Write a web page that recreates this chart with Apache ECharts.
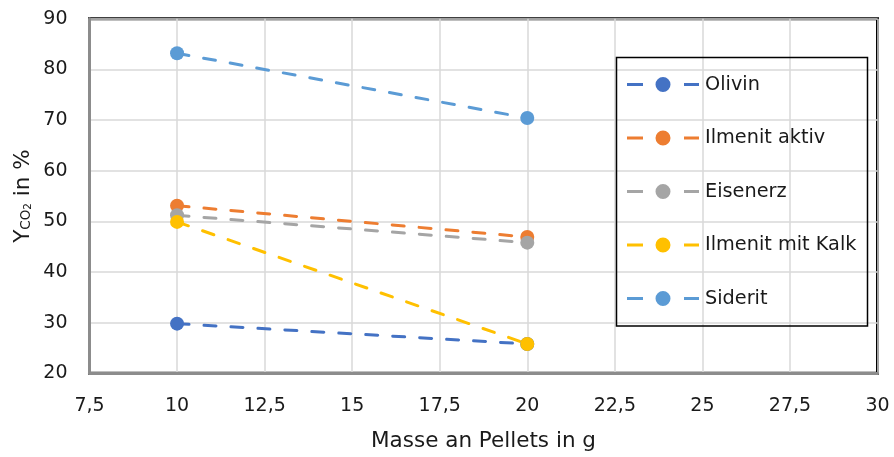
<!DOCTYPE html>
<html>
<head>
<meta charset="utf-8">
<script src="https://cdn.jsdelivr.net/npm/echarts@6/dist/echarts.min.js"></script>
<style>
html,body{margin:0;padding:0;background:#fff;}
#chart{width:894px;height:457px;}
</style>
</head>
<body>
<div id="chart"></div>
<script>
// Data
const xValues = [10, 20];
const seriesNames = ['Olivin', 'Ilmenit aktiv', 'Eisenerz', 'Ilmenit mit Kalk', 'Siderit'];
const olivin = [29.8, 25.8];
const ilmenitAktiv = [53.1, 46.9];
const eisenerz = [51.2, 45.8];
const ilmenitKalk = [49.9, 25.8];
const siderit = [83.2, 70.4];
const seriesColors = ['#4472C4', '#ED7D31', '#A5A5A5', '#FFC000', '#5B9BD5'];
const xTicks = { min: 7.5, max: 30, interval: 2.5 };
const yTicks = { min: 20, max: 90, interval: 10 };

const seriesValues = [olivin, ilmenitAktiv, eisenerz, ilmenitKalk, siderit];
const FONT = 'DejaVu Sans';
const legendIcon = 'path://M0,6L16,6L16,9L0,9Z M28.5,7.5A7.5,7.5,0,1,1,43.5,7.5A7.5,7.5,0,1,1,28.5,7.5Z M57,6L72,6L72,9L57,9Z';

const chart = echarts.init(document.getElementById('chart'), null, { renderer: 'canvas' });
chart.setOption({
  animation: false,
  backgroundColor: '#fff',
  grid: {
    left: 89.5, right: 16.5, top: 18.8, bottom: 83.7,
    containLabel: false,
    outerBoundsMode: 'none',
    show: true, borderColor: '#000', borderWidth: 3, backgroundColor: 'transparent'
  },
  xAxis: {
    type: 'value',
    min: xTicks.min, max: xTicks.max, interval: xTicks.interval,
    name: 'Masse an Pellets in g',
    nameLocation: 'middle',
    nameGap: 57,
    nameMoveOverlap: false,
    nameTextStyle: { fontFamily: FONT, fontSize: 21.5, color: '#1a1a1a', lineHeight: 22 },
    axisLine: { show: true, lineStyle: { color: '#8c8c8c', width: 3 } },
    axisTick: { show: false },
    splitLine: { show: true, lineStyle: { color: '#d9d9d9', width: 1.5 } },
    axisLabel: {
      fontFamily: FONT, fontSize: 19, color: '#1a1a1a', margin: 23,
      formatter: v => String(v).replace('.', ',')
    }
  },
  yAxis: {
    type: 'value',
    min: yTicks.min, max: yTicks.max, interval: yTicks.interval,
    name: '{a|Y}{b|CO}{c|2}{a| in %}',
    nameLocation: 'middle',
    nameGap: 56,
    nameRotate: 90,
    nameMoveOverlap: false,
    nameTextStyle: {
      color: '#1a1a1a',
      rich: {
        a: { fontFamily: FONT, fontSize: 21.5, lineHeight: 21, padding: [0, 0, 7, 0], verticalAlign: 'top', color: '#1a1a1a' },
        b: { fontFamily: FONT, fontSize: 13.5, lineHeight: 13, verticalAlign: 'bottom', color: '#1a1a1a' },
        c: { fontFamily: FONT, fontSize: 10.5, lineHeight: 10, verticalAlign: 'bottom', color: '#1a1a1a' }
      }
    },
    axisLine: { show: true, lineStyle: { color: '#8c8c8c', width: 3 } },
    axisTick: { show: false },
    splitLine: { show: true, lineStyle: { color: '#d9d9d9', width: 1.5 } },
    axisLabel: { fontFamily: FONT, fontSize: 19, color: '#1a1a1a', margin: 22 }
  },
  legend: {
    orient: 'vertical',
    left: 627, top: 75,
    padding: 0,
    itemWidth: 72, itemHeight: 15, itemGap: 34.5,
    icon: legendIcon,
    itemStyle: { borderWidth: 0 },
    textStyle: { fontFamily: FONT, fontSize: 19.3, lineHeight: 15, color: '#1a1a1a', padding: [0, 0, 0, 1] },
    data: seriesNames
  },
  graphic: [{
    type: 'rect',
    shape: { x: 616.5, y: 57.5, width: 251, height: 268.5 },
    style: { fill: 'none', stroke: '#000', lineWidth: 1.5 },
    z: 100
  }],
  series: seriesNames.map((name, i) => ({
    name: name,
    type: 'line',
    data: xValues.map((x, j) => [x, seriesValues[i][j]]),
    symbol: 'circle',
    symbolSize: 14,
    showSymbol: true,
    color: seriesColors[i],
    itemStyle: { color: seriesColors[i], borderWidth: 0 },
    lineStyle: { color: seriesColors[i], width: 3, type: [12, 15], cap: 'round' },
    emphasis: { disabled: true }
  }))
});
</script>
</body>
</html>
